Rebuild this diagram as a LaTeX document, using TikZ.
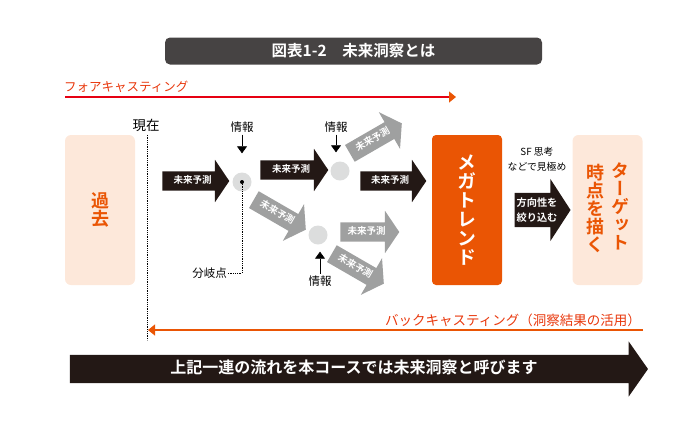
\documentclass[tikz,border=0pt]{standalone}
\usepackage{fontspec}
\setmainfont{Noto Sans CJK JP}[BoldFont={Noto Sans CJK JP Bold}]
\newfontfamily\tatefont{Noto Sans CJK JP Bold}[RawFeature=+vert]
\usetikzlibrary{shapes.arrows,arrows.meta,positioning}

\definecolor{sumi}{HTML}{231815}
\definecolor{haiiro}{HTML}{9FA0A0}
\definecolor{maru}{HTML}{DCDDDD}
\definecolor{daidai}{HTML}{EA5504}
\definecolor{usudai}{HTML}{FDE8DA}
\definecolor{aka}{HTML}{E60012}
\definecolor{akadai}{HTML}{E8380D}
\definecolor{midashi}{HTML}{464343}

\tikzset{
  yosoku/.style={single arrow, fill=sumi, text=white,
    font=\bfseries\fontsize{9.5}{10}\selectfont,
    text height=7pt, text depth=2pt, inner ysep=5pt, inner xsep=1pt,
    single arrow head extend=11.5pt, single arrow tip angle=112,
    minimum height=#1},
  yosoku2/.style={yosoku=#1, fill=haiiro},
  bunki/.style={circle, fill=maru, minimum size=19pt, inner sep=0pt},
  joho/.style={font=\fontsize{11.5}{12}\selectfont, inner sep=2pt},
  johoya/.style={line width=0.6pt, -{Triangle[length=7pt,width=10pt]}},
  hako/.style={rounded corners=6pt, minimum width=70pt, minimum height=150pt, align=center},
  tate/.style={font=\tatefont\fontsize{#1}{#1}\selectfont, align=center, inner sep=0pt}
}

\begin{document}
\begin{tikzpicture}[x=1pt,y=-1pt]
\useasboundingbox (0,0) rectangle (700,432);

% title
\node[fill=midashi, rounded corners=5pt, minimum width=377pt, minimum height=27pt,
  text=white, font=\bfseries\fontsize{15.5}{16}\selectfont] (title) at (353.5,51) {図表1-2　未来洞察とは};

% forecasting
\node[anchor=west, text=akadai, font=\fontsize{12.5}{13}\selectfont, inner sep=0pt] (fc) at (64,87) {フォアキャスティング};
\coordinate (fc-s) at (65,97);
\coordinate (fc-e) at (456,97);
\draw[aka, line width=1.2pt, -{Triangle[length=7pt,width=11pt,color=daidai]}] (fc-s) -- (fc-e);

% now
\node[font=\fontsize{13.5}{14}\selectfont] (genzai) at (146,125) {現在};
\coordinate (genzai-end) at (147,340);
\draw[densely dotted, line width=0.8pt] (genzai.south -| genzai-end) -- (genzai-end);

% past
\node[hako, fill=usudai, text=daidai, tate=18] (kako) at (100,210) {過\\去};

% branches
\node[yosoku=67pt] (y1) at (192.5,181) {未来予測};
\node[bunki] (c1) at (242,182) {};
\fill (c1) circle (2pt);
\node[joho] (j1) at (242,127) {情報};
\draw[johoya, shorten >=19pt] (j1.south) -- (j1.south |- c1.north);
\node[font=\fontsize{11.5}{12}\selectfont, anchor=east, inner sep=1pt] (bk) at (228,273) {分岐点};
\draw[densely dotted, line width=0.8pt] (c1.center) |- (bk.east);

\node[yosoku=68pt] (y2) at (291,170) {未来予測};
\node[yosoku2=60pt, rotate=-30] (g2) at (277,213) {未来予測};

\node[bunki] (c2) at (340,171) {};
\node[joho] (j2) at (336,127) {情報};
\draw[johoya, shorten >=9pt] (j2.south) -- (j2.south |- c2.north);
\node[yosoku2=60pt, rotate=30] (g1) at (373,140) {未来予測};
\node[yosoku=66pt] (y3) at (390,181) {未来予測};

\node[bunki] (c3) at (318,235) {};
\node[joho] (j3) at (320,281) {情報};
\draw[johoya, shorten >=7pt] (j3.north) -- (j3.north |- c3.south);
\node[yosoku2=59pt] (g3) at (366.5,232) {未来予測};
\node[yosoku2=60pt, rotate=-30] (g4) at (355,267) {未来予測};

% megatrend
\node[hako, rounded corners=4pt, fill=daidai, text=white, tate=19] (mega) at (467,210) {メ\\ガ\\ト\\レ\\ン\\ド};
\node[font=\fontsize{9.8}{15}\selectfont, align=center] (sf) at (537,159) {SF 思考\\などで見極め};
\node[single arrow, fill=sumi, text=white, font=\bfseries\fontsize{10.2}{15}\selectfont, align=center,
  inner ysep=4.5pt, inner xsep=1pt, single arrow head extend=14pt, single arrow tip angle=114,
  minimum height=56pt] (shibori) at (537,210) {方向性を\\絞り込む};

% target
\node[hako, fill=usudai] (tgt) at (607.5,210) {};
\node[tate=18, text=daidai, anchor=north] (tgt-r) at (620,163) {タ\\ー\\ゲ\\ッ\\ト};
\node[tate=18, text=daidai, anchor=north] (tgt-l) at (595,164) {時\\点\\を\\描\\く};

% backcasting
\node[anchor=east, text=akadai, font=\fontsize{13.5}{14}\selectfont, inner sep=0pt] (bc) at (641,320) {バックキャスティング（洞察結果の活用）};
\coordinate (bc-s) at (643,330);
\coordinate (bc-e) at (148,330);
\draw[daidai, line width=1.2pt, -{Triangle[length=7pt,width=11pt]}] (bc-s) -- (bc-e);

% summary
\node[single arrow, fill=sumi, text=white, font=\bfseries\fontsize{16}{17}\selectfont,
  text height=12pt, text depth=3pt, inner ysep=6.5pt, inner xsep=1pt,
  single arrow head extend=13.5pt, single arrow tip angle=110,
  minimum height=578pt] (matome) at (354,369) {上記一連の流れを本コースでは未来洞察と呼びます};
\end{tikzpicture}
\end{document}
